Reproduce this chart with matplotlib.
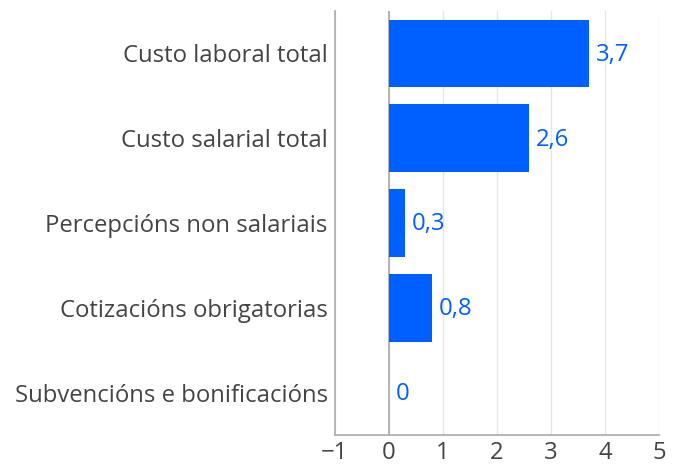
import matplotlib

matplotlib.use("Agg")
import matplotlib.pyplot as plt

categories = [
    "Custo laboral total",
    "Custo salarial total",
    "Percepcións non salariais",
    "Cotizacións obrigatorias",
    "Subvencións e bonificacións",
]
values = [3.7, 2.6, 0.3, 0.8, 0.0]
value_labels = ["3,7", "2,6", "0,3", "0,8", "0"]
xticks = [-1, 0, 1, 2, 3, 4, 5]

plt.rcParams["font.family"] = ["Open Sans", "DejaVu Sans"]

BLUE = "#0060ff"
TEXT = "#444444"
FS = 17.2

fig = plt.figure(figsize=(6.79, 4.69), dpi=100)
ax = fig.add_axes([0.493, 0.0725, 0.4776, 0.904])

ypos = list(range(len(categories)))
ax.barh(ypos, values, height=0.8, color=BLUE, zorder=3)
for y, v, lab in zip(ypos, values, value_labels):
    ax.annotate(lab, (v, y), xytext=(5, -1), textcoords="offset points",
                va="center", ha="left", color=BLUE, fontsize=FS, zorder=4)

ax.set_xlim(-1, 5)
ax.set_ylim(len(categories) - 0.5, -0.5)
ax.set_yticks(ypos)
ax.set_yticklabels(categories)
ax.set_xticks(xticks)
ax.set_xticklabels(["\u22121" if t < 0 else str(t) for t in xticks])
ax.tick_params(length=0, labelsize=FS, labelcolor=TEXT)
ax.tick_params(axis="y", pad=5)
ax.tick_params(axis="x", pad=4)

ax.grid(axis="x", color="#e6e6e6", lw=1, zorder=0)
ax.axvline(0, color="#aaaaaa", lw=1.2, zorder=2)
for s in ["top", "right"]:
    ax.spines[s].set_visible(False)
for s in ["left", "bottom"]:
    ax.spines[s].set_color("#aaaaaa")
    ax.spines[s].set_linewidth(1.2)

fig.savefig("out.png", dpi=100)
